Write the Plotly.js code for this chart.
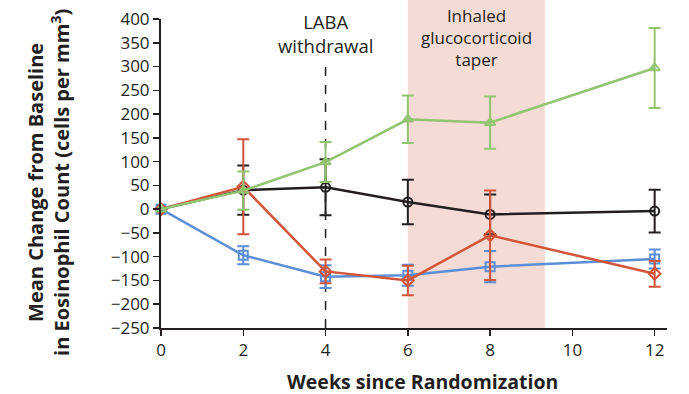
<!DOCTYPE html>
<html><head><meta charset="utf-8">
<script src="https://cdn.plot.ly/plotly-3.0.1.min.js"></script>
<style>body{margin:0;background:#fff}#c{width:689px;height:394px}</style>
</head><body><div id="c"></div>
<script>
const weeks = [0, 2, 4, 6, 8, 12];
const blackMean = [0, 40, 46, 15, -11, -4];
const blackErr  = [0, 52, 59, 47, 42, 45];
const blueMean  = [0, -97, -142, -139, -121, -105];
const blueErr   = [0, 19, 24, 22, 33, 20];
const redMean   = [0, 47, -131, -150, -55, -136];
const redErr    = [0, 100, 25, 31, 94, 27];
const greenMean = [0, 39, 99, 189, 182, 297];
const greenErr  = [0, 40, 42, 50, 55, 84];
const xTicks = [0, 2, 4, 6, 8, 10, 12];
const yTicks = [400, 350, 300, 250, 200, 150, 100, 50, 0, -50, -100, -150, -200, -250];
const yTickText = yTicks.map(v => v < 0 ? '\u2212' + Math.abs(v) : String(v));
const labaWeek = 4;
const taperStart = 6, taperEnd = 9.33;
const labaText = 'LABA<br>withdrawal';
const taperText = 'Inhaled<br>glucocorticoid<br>taper';
const xTitle = '<b>Weeks since Randomization</b>';
const yTitle = '<b>Mean Change from Baseline<br>in Eosinophil Count (cells per mm<sup>3</sup>)</b>';

const ink = '#231f20';
const fam = 'Open Sans, sans-serif';
function tr(y, e, color, symbol) {
  return {x: weeks, y: y, type: 'scatter', mode: 'lines+markers',
    line: {color: color, width: 2.5},
    marker: {symbol: symbol, size: 9, color: color, line: {width: 2, color: color}},
    error_y: {type: 'data', array: e, visible: true, color: color, thickness: 2, width: 6},
    showlegend: false, cliponaxis: false};
}
const data = [
  tr(blackMean, blackErr, ink, 'circle-open'),
  tr(blueMean, blueErr, '#5b8ed6', 'square-open'),
  tr(redMean, redErr, '#d2553a', 'diamond-open'),
  tr(greenMean, greenErr, '#93c471', 'triangle-up-open')
];
const annotations = [
  {xref: 'x', yref: 'paper', x: labaWeek, y: 0.952, yanchor: 'middle', showarrow: false,
   text: labaText, font: {size: 18.5, family: fam, color: ink}},
  {xref: 'x', yref: 'paper', x: (taperStart + taperEnd) / 2, y: 0.94, yanchor: 'middle', showarrow: false,
   text: taperText, font: {size: 17, family: fam, color: ink}},
  {xref: 'paper', yref: 'paper', x: 0.516, y: -0.173, yanchor: 'middle', xanchor: 'center', showarrow: false,
   text: xTitle, font: {size: 19.5, family: fam, color: ink}},
  {xref: 'paper', yref: 'paper', x: -0.221, y: 0.47, yanchor: 'middle', xanchor: 'center', showarrow: false,
   textangle: -90, text: yTitle, font: {size: 20, family: fam, color: ink}}
];

const layout = {
  width: 689, height: 394,
  margin: {l: 161, r: 22, t: 19, b: 66.3},
  paper_bgcolor: '#fff', plot_bgcolor: 'rgba(0,0,0,0)',
  font: {family: fam, color: ink},
  xaxis: {range: [0, 12.3], tickvals: xTicks, ticks: 'outside', ticklen: 6, tickwidth: 1.5,
    tickcolor: ink, showline: true, linecolor: ink, linewidth: 2, showgrid: false,
    zeroline: false, tickfont: {size: 17, family: fam, color: ink}},
  yaxis: {range: [-250, 400], tickvals: yTicks, ticktext: yTickText, ticks: 'outside', ticklen: 6, tickwidth: 1.5,
    tickcolor: ink, showline: true, linecolor: ink, linewidth: 2, showgrid: false,
    zeroline: false, tickfont: {size: 17, family: fam, color: ink}},
  shapes: [
    {type: 'rect', xref: 'x', yref: 'paper', x0: taperStart, x1: taperEnd, y0: 0, y1: 1.062,
     fillcolor: '#f5dbd5', line: {width: 0}, layer: 'below'},
    {type: 'line', xref: 'x', yref: 'paper', x0: labaWeek, x1: labaWeek, y0: 0, y1: 0.87,
     line: {color: ink, width: 1.5, dash: 'dash'}, layer: 'below'}
  ],
  annotations: annotations
};
Plotly.newPlot('c', data, layout, {displayModeBar: false, staticPlot: true});
</script></body></html>
